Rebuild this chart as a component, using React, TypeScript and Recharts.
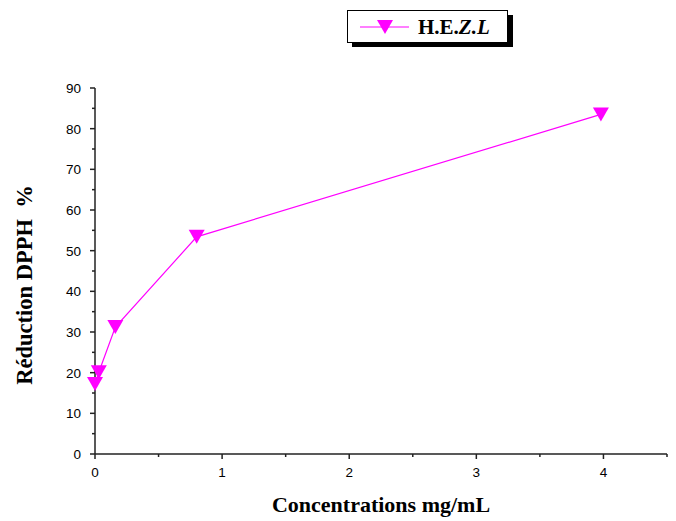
import { LineChart, Line, XAxis, YAxis, Label } from 'recharts';

const concentrations = [0, 0.03, 0.16, 0.8, 3.98];
const reduction = [17.2, 20.1, 31.2, 53.4, 83.5];
const xTicks = [0, 0.5, 1, 1.5, 2, 2.5, 3, 3.5, 4, 4.5];
const yTicks = [0, 5, 10, 15, 20, 25, 30, 35, 40, 45, 50, 55, 60, 65, 70, 75, 80, 85, 90];
const seriesName = 'H.E.Z.L';

const data = concentrations.map((c, i) => ({ conc: c, reduction: reduction[i] }));

const MAGENTA = '#FF00FF';
const AXIS = '#222';
const SERIF = "'Times New Roman', 'Liberation Serif', serif";
const SANS = "Arial, 'Liberation Sans', sans-serif";

function Triangle({ cx, cy }: { cx?: number; cy?: number }) {
  if (cx == null || cy == null) return null;
  return (
    <polygon
      points={`${cx - 8},${cy - 7} ${cx + 8},${cy - 7} ${cx},${cy + 7}`}
      fill={MAGENTA}
    />
  );
}

function XTick({ x, y, payload }: any) {
  const major = Number.isInteger(payload.value);
  return (
    <g>
      <line x1={x} y1={y} x2={x} y2={y + (major ? 5 : 3)} stroke={AXIS} strokeWidth={1.5} />
      {major && (
        <text x={x} y={y + 23} textAnchor="middle" fontFamily={SANS} fontSize={13.5} fill="#000">
          {payload.value}
        </text>
      )}
    </g>
  );
}

function YTick({ x, y, payload }: any) {
  const major = payload.value % 10 === 0;
  return (
    <g>
      <line x1={x} y1={y} x2={x - (major ? 5 : 3)} y2={y} stroke={AXIS} strokeWidth={1.5} />
      {major && (
        <text x={x - 14} y={y + 5} textAnchor="end" fontFamily={SANS} fontSize={13.5} fill="#000">
          {payload.value}
        </text>
      )}
    </g>
  );
}

function LegendBox() {
  return (
    <svg width={170} height={40} style={{ position: 'absolute', left: 347, top: 10 }}>
      <rect x={5} y={5} width={161} height={32} fill="#000" />
      <rect x={0.5} y={0.5} width={160} height={32} fill="#fff" stroke="#000" strokeWidth={1} />
      <line x1={13} y1={17} x2={62} y2={17} stroke={MAGENTA} strokeWidth={1.2} />
      <Triangle cx={38} cy={17} />
      <text x={71} y={24} fontFamily={SERIF} fontWeight="bold" fontSize={21} fill="#000">
        H.E.<tspan fontStyle="italic">Z.L</tspan>
      </text>
    </svg>
  );
}

export default function App() {
  return (
    <div style={{ position: 'absolute', left: 0, top: 0, width: 676, height: 521 }}>
      <LineChart width={676} height={521} data={data} margin={{ top: 88, right: 9, left: 0, bottom: 0 }}>
        <XAxis
          dataKey="conc"
          type="number"
          domain={[0, 4.5]}
          ticks={xTicks}
          interval={0}
          tick={<XTick />}
          tickLine={false}
          tickSize={0}
          tickMargin={0}
          axisLine={{ stroke: AXIS, strokeWidth: 1.5 }}
          height={67}
        >
          <Label
            content={() => (
              <text x={381} y={512} textAnchor="middle" fontFamily={SERIF} fontWeight="bold" fontSize={22} fill="#000">
                Concentrations mg/mL
              </text>
            )}
          />
        </XAxis>
        <YAxis
          type="number"
          domain={[0, 90]}
          ticks={yTicks}
          interval={0}
          tick={<YTick />}
          tickLine={false}
          tickSize={0}
          tickMargin={0}
          axisLine={{ stroke: AXIS, strokeWidth: 1.5 }}
          width={95}
        >
          <Label
            content={() => (
              <text x={32} y={285} transform="rotate(-90 32 285)" textAnchor="middle" fontFamily={SERIF} fontWeight="bold" fontSize={22.5} fill="#000" style={{ whiteSpace: 'pre' }}>
                {'Réduction DPPH  %'}
              </text>
            )}
          />
        </YAxis>
        <Line
          type="linear"
          dataKey="reduction"
          name={seriesName}
          stroke={MAGENTA}
          strokeWidth={1.2}
          dot={<Triangle />}
          activeDot={false}
          isAnimationActive={false}
        />
      </LineChart>
      <LegendBox />
    </div>
  );
}
